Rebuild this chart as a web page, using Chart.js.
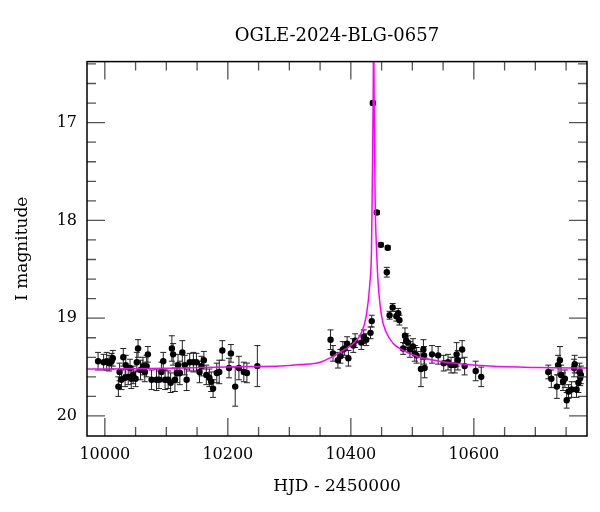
<!DOCTYPE html>
<html>
<head>
<meta charset="utf-8">
<script src="https://cdn.jsdelivr.net/npm/chart.js@4"></script>
<style>
  html, body { margin: 0; padding: 0; background: #fff; }
</style>
</head>
<body>
<canvas id="lcChart" width="600" height="512"></canvas>
<script>
// photometry: HJD - 2450000, I mag, error
const hjd = [
  9989, 9998, 10003, 10007, 10011, 10013, 10022, 10024, 10027, 10030,
  10033, 10034, 10038, 10041, 10043, 10046, 10050, 10052, 10054, 10058,
  10062, 10065, 10068, 10070, 10076, 10084, 10088, 10092, 10095, 10098,
  10103, 10107, 10109, 10111, 10114, 10117, 10119, 10122, 10126, 10130,
  10133, 10138, 10144, 10149, 10154, 10157, 10161, 10165, 10170, 10173,
  10176, 10182, 10186, 10191, 10202, 10205, 10212, 10218, 10226, 10231,
  10248,
  10367, 10371, 10379, 10383, 10387, 10390, 10394, 10396, 10404, 10407,
  10417, 10421, 10425, 10432, 10434,
  10435.8, 10442.3, 10448.8, 10460, 10458.5,
  10463, 10468, 10474, 10477, 10479, 10485, 10488, 10490, 10493, 10496,
  10501, 10504, 10507, 10514, 10518, 10519, 10520, 10532, 10542, 10551,
  10558, 10563, 10569, 10572, 10574, 10581, 10585, 10603, 10612,
  10721, 10726, 10735, 10737, 10740, 10742, 10745, 10748, 10751, 10754,
  10759, 10763, 10764, 10767, 10770, 10772, 10773, 10774
];
const mag = [
  19.44, 19.45, 19.44, 19.46, 19.44, 19.41, 19.70, 19.55, 19.63, 19.40,
  19.61, 19.48, 19.60, 19.51, 19.62, 19.58, 19.62, 19.45, 19.31, 19.53,
  19.49, 19.55, 19.49, 19.37, 19.63, 19.63, 19.63, 19.55, 19.44, 19.63,
  19.63, 19.66, 19.31, 19.37, 19.63, 19.56, 19.48, 19.56, 19.35, 19.48,
  19.63, 19.45, 19.45, 19.45, 19.55, 19.49, 19.43, 19.58, 19.61, 19.65,
  19.72, 19.56, 19.55, 19.33, 19.51, 19.36, 19.70, 19.51, 19.55, 19.56,
  19.49,
  19.22, 19.36, 19.43, 19.39, 19.32, 19.31, 19.26, 19.41, 19.28, 19.23,
  19.25, 19.19, 19.22, 19.15, 19.03,
  16.80, 17.92, 18.25, 18.28, 18.53,
  18.97, 18.89, 18.98, 18.95, 19.02, 19.31, 19.18, 19.23, 19.25, 19.32,
  19.29, 19.36, 19.38, 19.52, 19.32, 19.38, 19.51, 19.37, 19.38, 19.46,
  19.45, 19.48, 19.48, 19.37, 19.43, 19.32, 19.49, 19.54, 19.60,
  19.55, 19.62, 19.70, 19.48, 19.43, 19.58, 19.65, 19.62, 19.84, 19.75,
  19.73, 19.51, 19.47, 19.73, 19.66, 19.55, 19.61, 19.58
];
const magErr = [
  0.09, 0.08, 0.09, 0.08, 0.08, 0.08, 0.10, 0.09, 0.10, 0.09,
  0.09, 0.10, 0.08, 0.09, 0.10, 0.09, 0.08, 0.10, 0.09, 0.10,
  0.09, 0.10, 0.11, 0.08, 0.10, 0.11, 0.09, 0.10, 0.09, 0.10,
  0.09, 0.10, 0.13, 0.11, 0.12, 0.10, 0.11, 0.12, 0.12, 0.10,
  0.11, 0.09, 0.10, 0.09, 0.11, 0.10, 0.09, 0.10, 0.09, 0.10,
  0.09, 0.10, 0.12, 0.10, 0.10, 0.09, 0.20, 0.12, 0.10, 0.10,
  0.21,
  0.10, 0.08, 0.08, 0.07, 0.08, 0.07, 0.07, 0.08, 0.07, 0.07,
  0.07, 0.07, 0.06, 0.06, 0.06,
  0.02, 0.02, 0.02, 0.02, 0.05,
  0.04, 0.04, 0.05, 0.05, 0.05, 0.06, 0.08, 0.07, 0.07, 0.08,
  0.08, 0.08, 0.08, 0.18, 0.10, 0.09, 0.10, 0.09, 0.09, 0.08,
  0.08, 0.08, 0.08, 0.12, 0.10, 0.09, 0.09, 0.10, 0.10,
  0.07, 0.09, 0.12, 0.10, 0.14, 0.10, 0.09, 0.09, 0.08, 0.07,
  0.08, 0.09, 0.09, 0.08, 0.10, 0.09, 0.08, 0.09
];

// model curve
const modelT = [9971, 10073, 10154, 10236, 10285, 10317, 10350, 10371, 10390, 10404,
  10417, 10425, 10431, 10433.6, 10434.6, 10436.3, 10437.1, 10437.9, 10439.5, 10441.8,
  10444.4, 10450, 10458, 10469, 10482, 10507, 10555, 10626, 10707, 10784];
const modelMag = [19.52, 19.515, 19.505, 19.495, 19.49, 19.475, 19.45, 19.39, 19.32, 19.26,
  19.15, 18.98, 18.64, 18.30, 17.79, 16.77, 16.0, 16.77, 17.79, 18.30,
  18.64, 18.98, 19.15, 19.26, 19.32, 19.39, 19.45, 19.49, 19.505, 19.51];

const xMajor = [10000, 10200, 10400, 10600];
const xMinor = [10050, 10100, 10150, 10250, 10300, 10350, 10450, 10500, 10550, 10650, 10700, 10750];
const yMajor = [17, 18, 19, 20];
const yMinor = [16.4, 16.6, 16.8, 17.2, 17.4, 17.6, 17.8, 18.2, 18.4, 18.6, 18.8,
  19.2, 19.4, 19.6, 19.8];

const serif = "'DejaVu Serif', 'Liberation Serif', serif";

// error bars under the points
const errorBars = {
    id: 'errorBars',
    beforeDatasetsDraw(chart) {
        const ctx = chart.ctx;
        const xs = chart.scales.x, ys = chart.scales.y;
        const a = chart.chartArea;
        ctx.save();
        ctx.beginPath();
        ctx.rect(a.left, a.top, a.right - a.left, a.bottom - a.top);
        ctx.clip();
        ctx.strokeStyle = '#222';
        ctx.lineWidth = 1;
        for (let i = 0; i < hjd.length; i++) {
            const x = xs.getPixelForValue(hjd[i]);
            const y1 = ys.getPixelForValue(mag[i] - magErr[i]);
            const y2 = ys.getPixelForValue(mag[i] + magErr[i]);
            ctx.beginPath();
            ctx.moveTo(x, y1); ctx.lineTo(x, y2);
            ctx.moveTo(x - 3, y1); ctx.lineTo(x + 3, y1);
            ctx.moveTo(x - 3, y2); ctx.lineTo(x + 3, y2);
            ctx.stroke();
        }
        ctx.restore();
    }
};

// inward ticks on all four sides + frame
const frameTicks = {
    id: 'frameTicks',
    afterDraw(chart) {
        const ctx = chart.ctx;
        const xs = chart.scales.x, ys = chart.scales.y;
        const a = chart.chartArea;
        ctx.save();
        ctx.strokeStyle = '#555';
        ctx.lineWidth = 1.3;
        const xt = (list, len) => list.forEach(v => {
            const x = xs.getPixelForValue(v);
            ctx.beginPath();
            ctx.moveTo(x, a.bottom); ctx.lineTo(x, a.bottom - len);
            ctx.moveTo(x, a.top); ctx.lineTo(x, a.top + len);
            ctx.stroke();
        });
        const yt = (list, len) => list.forEach(v => {
            const y = ys.getPixelForValue(v);
            ctx.beginPath();
            ctx.moveTo(a.left, y); ctx.lineTo(a.left + len, y);
            ctx.moveTo(a.right, y); ctx.lineTo(a.right - len, y);
            ctx.stroke();
        });
        xt(xMajor, 18); xt(xMinor, 9);
        yt(yMajor, 18); yt(yMinor, 9);
        ctx.strokeStyle = '#000';
        ctx.lineWidth = 1.5;
        ctx.strokeRect(a.left, a.top, a.right - a.left, a.bottom - a.top);
        ctx.restore();
    }
};

new Chart(document.getElementById('lcChart'), {
    type: 'scatter',
    data: {
        datasets: [{
            label: 'model',
            data: modelT.map((t, i) => ({x: t, y: modelMag[i]})),
            showLine: true,
            borderColor: '#ff00ff',
            borderWidth: 1.5,
            pointRadius: 0,
            cubicInterpolationMode: 'monotone'
        }, {
            label: 'OGLE I',
            data: hjd.map((t, i) => ({x: t, y: mag[i]})),
            backgroundColor: '#000',
            borderWidth: 0,
            pointRadius: 3.2
        }]
    },
    options: {
        responsive: false,
        animation: false,
        devicePixelRatio: 1,
        layout: { padding: { left: 0, right: 13, top: 0, bottom: 0 } },
        plugins: {
            legend: { display: false },
            tooltip: { enabled: false },
            title: {
                display: true,
                fullSize: false,
                text: 'OGLE-2024-BLG-0657',
                color: '#000',
                font: { family: serif, size: 18, weight: 'normal' },
                padding: { top: 26, bottom: 14 }
            }
        },
        scales: {
            x: {
                type: 'linear',
                min: 9971,
                max: 10784,
                grid: { display: false, drawTicks: false },
                border: { display: false },
                afterBuildTicks: s => { s.ticks = xMajor.map(v => ({value: v})); },
                afterFit: s => { s.height = 76; },
                ticks: {
                    color: '#000',
                    padding: 9,
                    maxRotation: 0,
                    font: { family: serif, size: 16 },
                    callback: v => String(v)
                },
                title: {
                    display: true,
                    text: 'HJD - 2450000',
                    color: '#000',
                    font: { family: serif, size: 17 },
                    padding: { top: 0, bottom: 15 }
                }
            },
            y: {
                type: 'linear',
                reverse: true,
                min: 16.376,
                max: 20.205,
                grid: { display: false, drawTicks: false },
                border: { display: false },
                afterBuildTicks: s => { s.ticks = yMajor.map(v => ({value: v})); },
                afterFit: s => { s.width = 87; },
                ticks: {
                    color: '#000',
                    padding: 10,
                    font: { family: serif, size: 16 },
                    callback: v => String(v)
                },
                title: {
                    display: true,
                    text: 'I magnitude',
                    color: '#000',
                    font: { family: serif, size: 17 },
                    padding: { top: 12, bottom: 0 }
                }
            }
        }
    },
    plugins: [errorBars, frameTicks]
});
</script>
</body>
</html>
